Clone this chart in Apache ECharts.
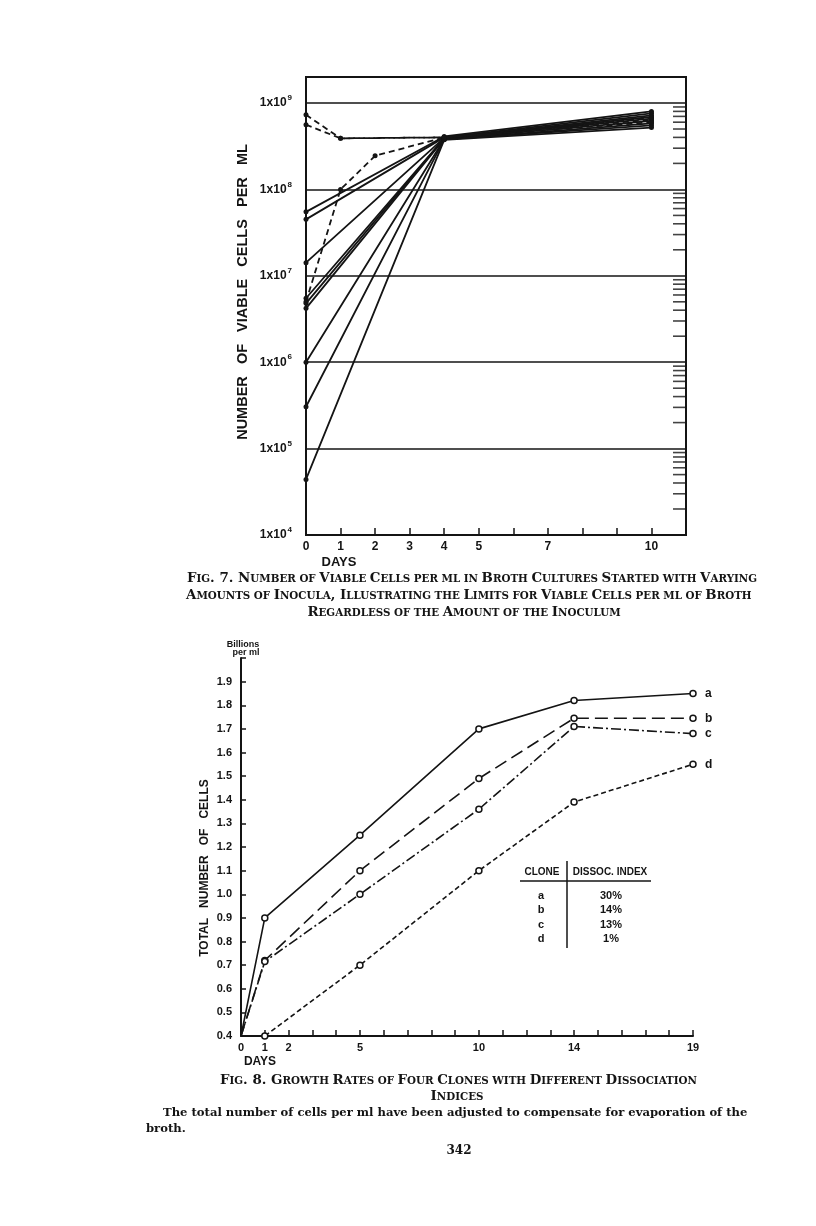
<!DOCTYPE html>
<html>
<head>
<meta charset="utf-8">
<title>Fig. 7 / Fig. 8</title>
<script src="https://cdn.jsdelivr.net/npm/echarts/dist/echarts.min.js"></script>
<style>
  html, body { margin: 0; padding: 0; background: #fff; }
  #chart { width: 816px; height: 1226px; }
</style>
</head>
<body>
<div id="chart"></div>
<script>
// ---- Fig. 7 data: viable cells per ml (log scale) ----
const fig7Days = [0, 1, 2, 4, 10];
const fig7DayLabels = [0, 1, 2, 3, 4, 5, 7, 10];
// dashed cultures
const f7DashA = [7.3e8, 3.9e8, null, 4.0e8, 6.8e8];
const f7DashB = [5.6e8, 3.9e8, null, 4.0e8, 6.4e8];
const f7DashC = [5.0e6, 1.0e8, 2.45e8, 4.0e8, 6.0e8];
// solid cultures
const f7Solid1 = [5.5e7, null, null, 4.1e8, 8.0e8];
const f7Solid2 = [4.5e7, null, null, 4.0e8, 7.6e8];
const f7Solid3 = [1.42e7, null, null, 3.95e8, 7.2e8];
const f7Solid4 = [5.5e6, null, null, 3.9e8, 6.9e8];
const f7Solid5 = [4.8e6, null, null, 3.9e8, 6.6e8];
const f7Solid6 = [4.2e6, null, null, 3.85e8, 6.2e8];
const f7Solid7 = [1.0e6, null, null, 3.8e8, 5.8e8];
const f7Solid8 = [3.05e5, null, null, 3.8e8, 5.5e8];
const f7Solid9 = [4.4e4, null, null, 3.75e8, 5.2e8];
// right-hand log minor ticks
const minorMantissas = [2, 3, 4, 5, 6, 7, 8, 9];
const minorDecades = [1e4, 1e5, 1e6, 1e7, 1e8];

// ---- Fig. 8 data: total number of cells (billions per ml) ----
const fig8Days = [0, 1, 5, 10, 14, 19];
const fig8DayLabels = [0, 1, 2, 5, 10, 14, 19];
const cloneA = [0.40, 0.90, 1.25, 1.70, 1.82, 1.85];
const cloneB = [0.40, 0.72, 1.10, 1.49, 1.745, 1.745];
const cloneC = [0.40, 0.715, 1.00, 1.36, 1.71, 1.68];
const cloneD = [0.40, 0.40, 0.70, 1.10, 1.39, 1.55];
const cloneNames = ['a', 'b', 'c', 'd'];
const dissocIndex = ['30%', '14%', '13%', '1%'];

const INK = '#141414';
const SANS = 'Liberation Sans';
const SERIF = 'DejaVu Serif';

function pairs(days, vals) {
  return days.map((d, i) => [d, vals[i]]).filter(p => p[1] != null);
}

// caption helper: lowercase letters become small capitals
function smallCaps(str) {
  let out = '', cur = null, buf = '';
  for (const ch of str) {
    let st = (ch >= 'a' && ch <= 'z') ? 's' : (ch === ' ' ? (cur || 'b') : 'b');
    if (st !== cur && buf) { out += '{' + cur + '|' + buf + '}'; buf = ''; }
    cur = st;
    buf += st === 's' ? ch.toUpperCase() : ch;
  }
  if (buf) out += '{' + cur + '|' + buf + '}';
  return out;
}
const capRich = {
  b: { fontFamily: SERIF, fontWeight: 'bold', fontSize: 13.4, fill: INK, color: INK },
  s: { fontFamily: SERIF, fontWeight: 'bold', fontSize: 10.3, fill: INK, color: INK }
};
function capText(str, x, y, align) {
  return {
    type: 'text', x: x, y: y,
    style: { text: smallCaps(str), rich: capRich, textAlign: align || 'left', textVerticalAlign: 'middle', fill: INK }
  };
}
function plainText(str, x, y, opt) {
  return {
    type: 'text', x: x, y: y, rotation: (opt && opt.rotation) || 0,
    style: Object.assign({
      text: str, fill: INK, fontFamily: SANS, fontWeight: 'bold', fontSize: 12,
      textAlign: 'center', textVerticalAlign: 'middle'
    }, opt && opt.style)
  };
}

const fig7Solid = [f7Solid1, f7Solid2, f7Solid3, f7Solid4, f7Solid5, f7Solid6, f7Solid7, f7Solid8, f7Solid9];
const fig7Dashed = [f7DashA, f7DashB, f7DashC];

const series = [];
fig7Solid.forEach((vals, i) => {
  series.push({
    type: 'line', name: 'solid' + (i + 1), xAxisIndex: 0, yAxisIndex: 0,
    data: pairs(fig7Days, vals), symbol: 'circle', symbolSize: 5,
    lineStyle: { color: INK, width: 1.8 }, itemStyle: { color: INK }
  });
});
fig7Dashed.forEach((vals, i) => {
  series.push({
    type: 'line', name: 'dashed' + (i + 1), xAxisIndex: 0, yAxisIndex: 0,
    data: pairs(fig7Days, vals), symbol: 'circle', symbolSize: 5,
    lineStyle: { color: INK, width: 1.8, type: [6, 4] }, itemStyle: { color: INK }
  });
});
const minorTicks = [];
minorDecades.forEach(dec => minorMantissas.forEach(m => minorTicks.push([11, m * dec])));
series.push({
  type: 'scatter', name: 'minor', xAxisIndex: 0, yAxisIndex: 0, silent: true,
  data: minorTicks, symbol: 'rect', symbolSize: [13, 1.6], symbolOffset: [-6.5, 0],
  itemStyle: { color: INK }
});

const cloneVals = [cloneA, cloneB, cloneC, cloneD];
const cloneDash = ['solid', [13, 6], [10, 3, 2, 3], [5, 3]];
cloneVals.forEach((vals, i) => {
  series.push({
    type: 'line', name: cloneNames[i], xAxisIndex: 1, yAxisIndex: 1,
    data: pairs(fig8Days, vals),
    symbol: (v, p) => p.dataIndex === 0 ? 'none' : 'circle',
    symbolSize: 6,
    lineStyle: { color: INK, width: 1.6, type: cloneDash[i] },
    itemStyle: { color: '#fff', borderColor: INK, borderWidth: 1.5 },
    endLabel: {
      show: true, formatter: p => p.seriesName, distance: 12,
      color: INK, fontFamily: SANS, fontWeight: 'bold', fontSize: 12
    }
  });
});

// legend table of fig. 8
const table = [
  plainText('CLONE', 542, 872, { style: { fontSize: 10 } }),
  plainText('DISSOC. INDEX', 610, 872, { style: { fontSize: 10 } }),
  { type: 'line', shape: { x1: 520, y1: 881, x2: 651, y2: 881 }, style: { stroke: INK, lineWidth: 1.5 } },
  { type: 'line', shape: { x1: 567, y1: 861, x2: 567, y2: 948 }, style: { stroke: INK, lineWidth: 1.5 } }
];
cloneNames.forEach((c, i) => {
  table.push(plainText(c, 541, 896 + i * 14.3, { style: { fontSize: 11 } }));
  table.push(plainText(dissocIndex[i], 611, 896 + i * 14.3, { style: { fontSize: 11 } }));
});

const option = {
  animation: false,
  backgroundColor: '#fff',
  textStyle: { fontFamily: SANS, color: INK },
  grid: [
    { left: 306, top: 77, width: 380, height: 458, show: true, borderColor: INK, borderWidth: 2, backgroundColor: 'transparent' },
    { left: 241, top: 658, width: 452, height: 378 }
  ],
  xAxis: [
    {
      type: 'value', gridIndex: 0, min: 0, max: 11, interval: 1,
      axisLine: { lineStyle: { color: INK, width: 2 } },
      axisTick: { inside: true, length: 7, lineStyle: { color: INK, width: 1.5 } },
      axisLabel: {
        margin: 6, color: INK, fontFamily: SANS, fontWeight: 'bold', fontSize: 12,
        formatter: v => fig7DayLabels.includes(v) ? String(v) : ''
      },
      splitLine: { show: false }
    },
    {
      type: 'value', gridIndex: 1, min: 0, max: 19, interval: 1,
      axisLine: { lineStyle: { color: INK, width: 2 } },
      axisTick: { inside: true, length: 6, lineStyle: { color: INK, width: 1.5 } },
      axisLabel: {
        margin: 6, color: INK, fontFamily: SANS, fontWeight: 'bold', fontSize: 11,
        formatter: v => fig8DayLabels.includes(v) ? String(v) : ''
      },
      splitLine: { show: false }
    }
  ],
  yAxis: [
    {
      type: 'log', logBase: 10, gridIndex: 0, min: 1e4, max: 2e9,
      axisLine: { show: true, lineStyle: { color: INK, width: 2 } },
      axisTick: { show: false },
      axisLabel: {
        margin: 14, color: INK,
        formatter: v => {
          const e = Math.round(Math.log10(v));
          if (Math.abs(Math.log10(v) - e) > 1e-6) return '';
          return '{m|1x10}{e|' + e + '}';
        },
        rich: {
          m: { fontFamily: SANS, fontWeight: 'bold', fontSize: 12, color: INK },
          e: { fontFamily: SANS, fontWeight: 'bold', fontSize: 8, color: INK, padding: [0, 0, 10, 1] }
        }
      },
      splitLine: { show: true, lineStyle: { color: INK, width: 1.6 } }
    },
    {
      type: 'value', gridIndex: 1, min: 0.4, max: 2.0, interval: 0.1,
      axisLine: { show: true, lineStyle: { color: INK, width: 2 } },
      axisTick: { inside: true, length: 5, lineStyle: { color: INK, width: 1.5 } },
      axisLabel: {
        margin: 9, color: INK, fontFamily: SANS, fontWeight: 'bold', fontSize: 11,
        formatter: v => v < 1.95 ? v.toFixed(1) : ''
      },
      splitLine: { show: false }
    }
  ],
  graphic: [
    plainText('NUMBER   OF   VIABLE   CELLS   PER   ML', 243, 292, { rotation: Math.PI / 2, style: { fontSize: 14.5 } }),
    plainText('DAYS', 339, 562, { style: { fontSize: 13 } }),
    capText('Fig. 7. Number of Viable Cells per ml in Broth Cultures Started with Varying', 187, 579),
    capText('Amounts of Inocula, Illustrating the Limits for Viable Cells per ml of Broth', 186, 596),
    capText('Regardless of the Amount of the Inoculum', 464, 613, 'center'),
    plainText('Billions', 243, 645, { style: { fontSize: 9 } }),
    plainText('per ml', 246, 653, { style: { fontSize: 9 } }),
    plainText('TOTAL   NUMBER   OF   CELLS', 205, 868, { rotation: Math.PI / 2, style: { fontSize: 12 } }),
    plainText('DAYS', 260, 1062, { style: { fontSize: 12 } }),
    capText('Fig. 8. Growth Rates of Four Clones with Different Dissociation', 220, 1081),
    capText('Indices', 457, 1097, 'center'),
    {
      type: 'text', x: 163, y: 1113,
      style: { text: 'The total number of cells per ml have been adjusted to compensate for evaporation of the', fill: INK, fontFamily: SERIF, fontWeight: 'bold', fontSize: 11.6, textVerticalAlign: 'middle' }
    },
    {
      type: 'text', x: 146, y: 1129,
      style: { text: 'broth.', fill: INK, fontFamily: SERIF, fontWeight: 'bold', fontSize: 11.6, textVerticalAlign: 'middle' }
    },
    {
      type: 'text', x: 459, y: 1151,
      style: { text: '342', fill: INK, fontFamily: SERIF, fontWeight: 'bold', fontSize: 12, textAlign: 'center', textVerticalAlign: 'middle' }
    }
  ].concat(table),
  series: series
};

const chart = echarts.init(document.getElementById('chart'), null, { renderer: 'canvas' });
chart.setOption(option);
</script>
</body>
</html>
